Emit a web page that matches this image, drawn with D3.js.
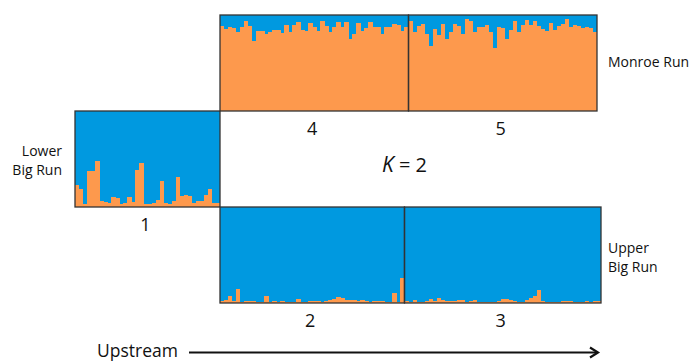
<!DOCTYPE html>
<html>
<head>
<meta charset="utf-8">
<script src="https://cdn.jsdelivr.net/npm/d3@7"></script>
<style>
  body { margin: 0; background: #fff; }
  svg { display: block; font-family: "Open Sans", sans-serif; }
</style>
</head>
<body>
<div id="chart"></div>
<script>
// orange (cluster 2) membership per individual, K = 2; blue is the remainder
const pop1 = [.23,.19,.03,.38,.37,.48,.06,.05,.04,.10,.09,.03,.04,.10,.05,.39,.46,.03,.03,.04,
  .07,.27,.04,.03,.06,.31,.11,.12,.11,.04,.06,.06,.13,.19,.04,.04];
const pop2 = [.025,.032,.07,.025,.144,.011,.021,.021,.018,.011,.011,.07,.011,.025,.011,.021,.014,.014,.014,.046,
  .011,.011,.018,.018,.021,.014,.025,.032,.039,.063,.056,.028,.028,.035,.025,.028,.018,.014,.025,.025,
  .021,.014,.014,.109,.011,.256];
const pop3 = [.018,.011,.028,.011,.014,.021,.046,.025,.053,.032,.018,.018,.018,.028,.028,.011,.021,.028,.011,.011,
  .014,.011,.014,.018,.046,.046,.028,.021,.011,.014,.028,.056,.07,.14,.018,.011,.011,.014,.011,.018,
  .021,.018,.011,.014,.014,.018,.011,.018,.018];
const pop4 = [.89,.85,.87,.86,.82,.88,.94,.89,.73,.83,.83,.80,.82,.84,.84,.81,.90,.82,.90,.93,
  .84,.83,.92,.87,.83,.94,.89,.82,.87,.93,.88,.93,.75,.80,.92,.83,.86,.93,.87,.87,
  .80,.87,.87,.91,.90,.83,.87];
const pop5 = [.94,.82,.89,.91,.80,.68,.85,.79,.91,.75,.82,.91,.89,.80,.96,.94,.82,.88,.87,.90,
  .82,.66,.87,.86,.75,.84,.94,.82,.90,.95,.90,.94,.89,.85,.83,.92,.84,.89,.91,.96,
  .88,.90,.89,.86,.87,.86,.82];
const popLabels = ["1", "2", "3", "4", "5"];

const width = 691, height = 362;
const blue = "#0099e0", orange = "#fd994d", edge = "#333";

const svg = d3.select("#chart").append("svg")
  .attr("width", width).attr("height", height);

// each row of the figure is one strip of individuals, split into populations
const rows = [
  { pops: [[pop1, popLabels[0]]], x: [75, 220], y: [111, 207] },
  { pops: [[pop2, popLabels[1]], [pop3, popLabels[2]]], x: [220, 601], y: [207, 303] },
  { pops: [[pop4, popLabels[3]], [pop5, popLabels[4]]], x: [220, 597], y: [15, 111] }
];

rows.forEach(row => {
  const inds = [];
  row.pops.forEach(([vals, lab], p) => vals.forEach((v, i) => inds.push({ p, i, v, key: lab + "-" + i })));
  const x = d3.scaleBand().domain(inds.map(d => d.key)).range(row.x).padding(0);
  const y = d3.scaleLinear().domain([0, 1]).range([row.y[1], row.y[0]]);
  const g = svg.append("g");

  g.append("rect")
    .attr("x", row.x[0]).attr("y", row.y[0])
    .attr("width", row.x[1] - row.x[0]).attr("height", row.y[1] - row.y[0])
    .attr("fill", blue);

  g.selectAll("rect.ind")
    .data(inds)
    .join("rect")
    .attr("class", "ind")
    .attr("x", d => x(d.key))
    .attr("width", x.bandwidth() + 0.4)
    .attr("y", d => y(d.v))
    .attr("height", d => y(0) - y(d.v))
    .attr("fill", orange)
    .attr("shape-rendering", "crispEdges");

  // population boxes and their numbers
  row.pops.forEach(([vals, lab]) => {
    const first = x(lab + "-0"), last = x(lab + "-" + (vals.length - 1)) + x.bandwidth();
    g.append("rect")
      .attr("x", first).attr("y", row.y[0])
      .attr("width", last - first).attr("height", row.y[1] - row.y[0])
      .attr("fill", "none").attr("stroke", edge).attr("stroke-width", 1.3);
    g.append("text")
      .attr("x", (first + last) / 2 - 2).attr("y", row.y[1] + 23.5)
      .attr("text-anchor", "middle")
      .attr("font-size", 18).attr("fill", "#111")
      .text(lab);
  });
});

// region labels
const side = svg.append("g").attr("font-size", 14).attr("fill", "#111");
side.append("text").attr("x", 608).attr("y", 66.5).text("Monroe Run");
side.append("text").attr("x", 608).attr("y", 253).text("Upper");
side.append("text").attr("x", 608).attr("y", 272).text("Big Run");
side.append("text").attr("x", 62).attr("y", 156).attr("text-anchor", "end").text("Lower");
side.append("text").attr("x", 62).attr("y", 175).attr("text-anchor", "end").text("Big Run");

const k = svg.append("text").attr("x", 382).attr("y", 172).attr("font-size", 21).attr("fill", "#111");
k.append("tspan").attr("font-style", "italic").text("K");
k.append("tspan").attr("font-size", 20).text(" = 2");

// upstream arrow
svg.append("text").attr("x", 97).attr("y", 357).attr("font-size", 17.5).attr("fill", "#111").text("Upstream");
svg.append("line")
  .attr("x1", 189).attr("x2", 597).attr("y1", 352.5).attr("y2", 352.5)
  .attr("stroke", "#111").attr("stroke-width", 2);
svg.append("path")
  .attr("d", "M590,347.5 L598,352.5 L590,357.5")
  .attr("fill", "none").attr("stroke", "#111").attr("stroke-width", 2.2);
</script>
</body>
</html>
